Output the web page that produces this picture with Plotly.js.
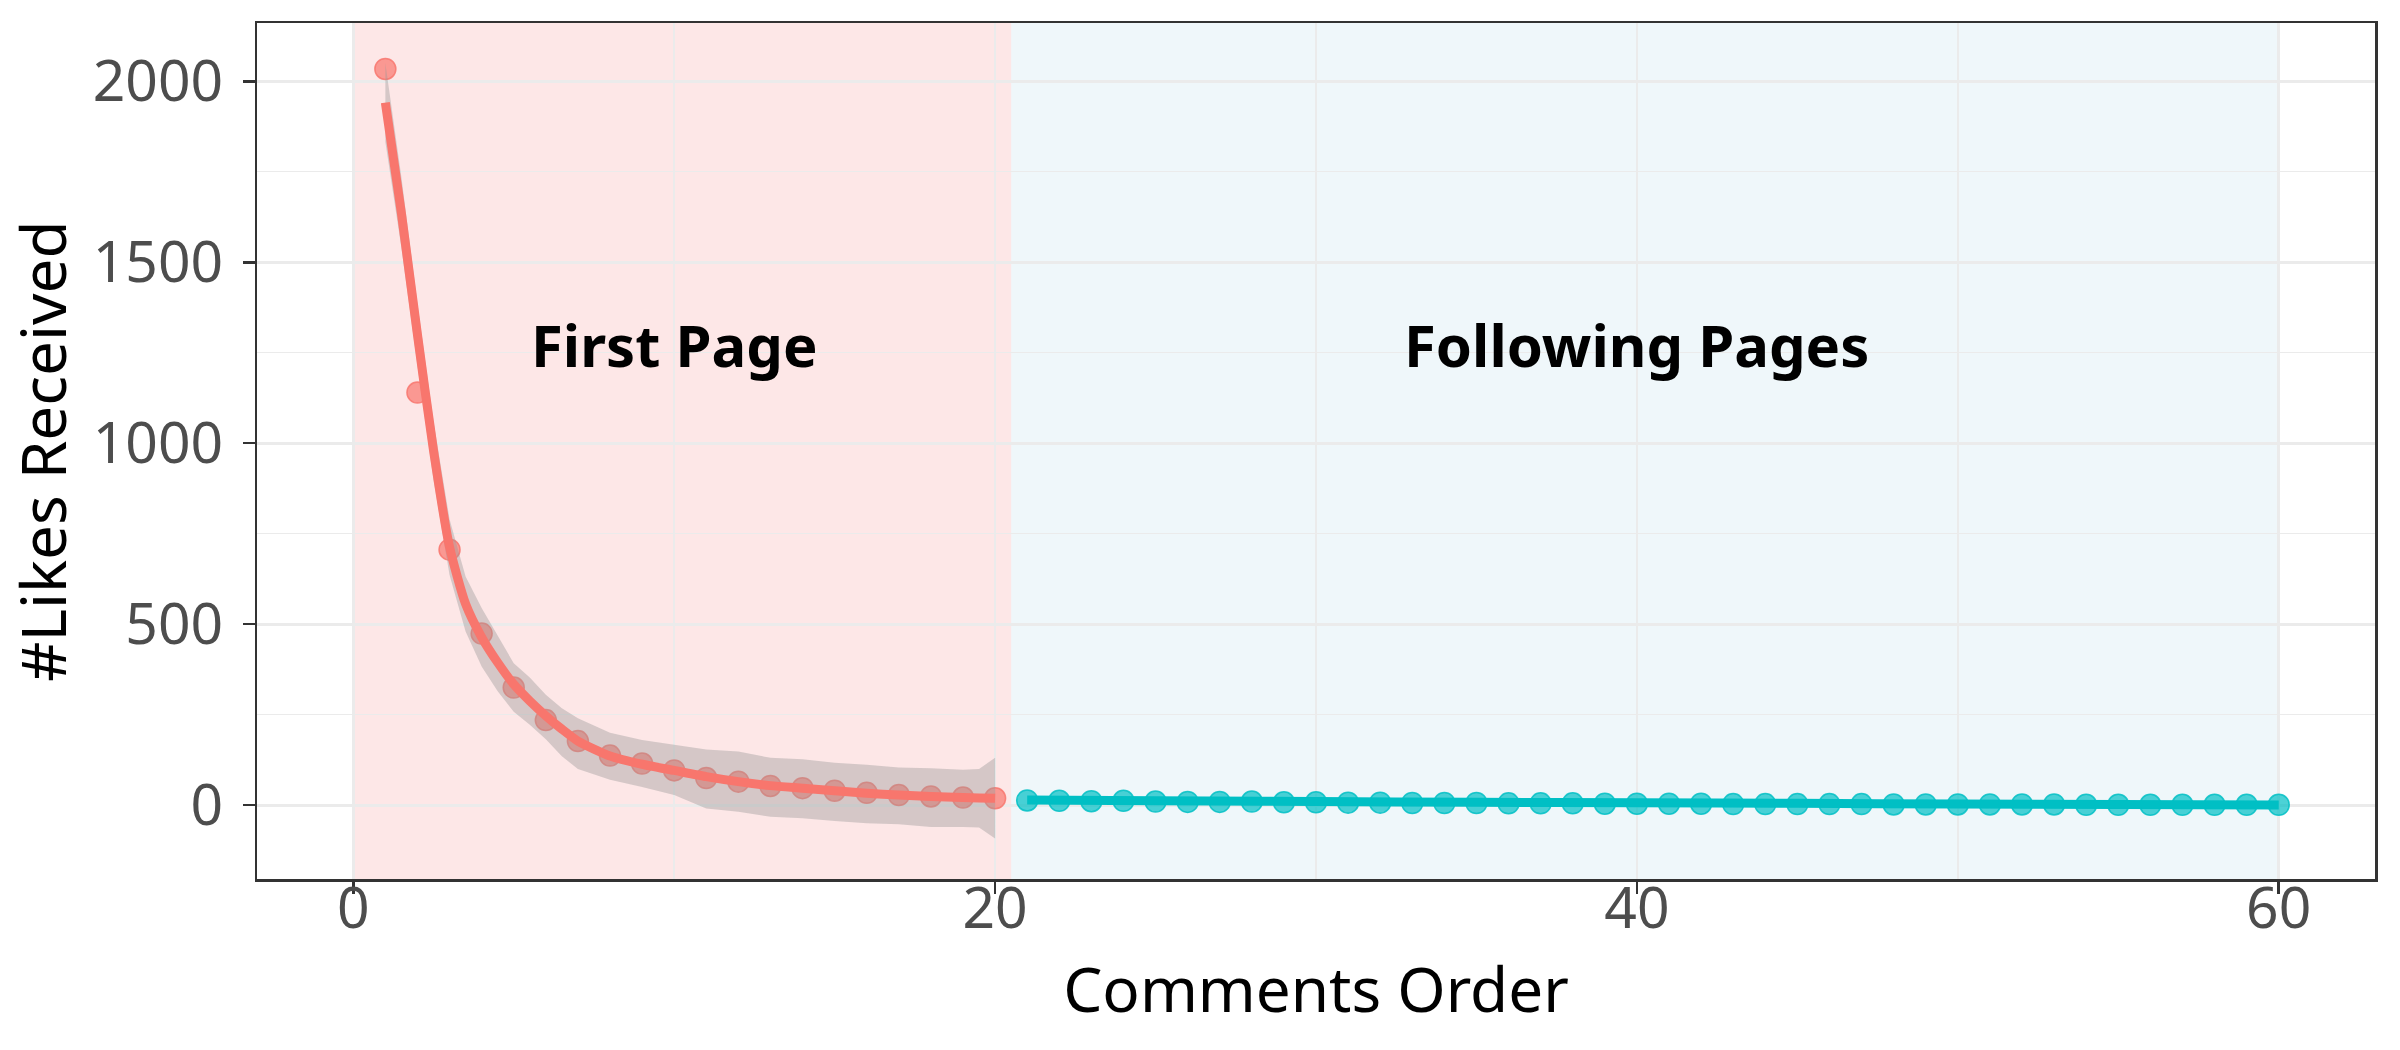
<!DOCTYPE html>
<html>
<head>
<meta charset="utf-8">
<script src="https://cdn.plot.ly/plotly-3.0.1.min.js"></script>
<style>
  html, body { margin: 0; padding: 0; background: #ffffff; }
  #chart { width: 2400px; height: 1050px; }
</style>
</head>
<body>
<div id="chart"></div>
<script>
// ---- Data ----
const firstPageOrder = [1,2,3,4,5,6,7,8,9,10,11,12,13,14,15,16,17,18,19,20];
const firstPageLikes = [2034,1140,706,474,325,235,177,137,115,96,75,65,53,47,40,34,28,24,21,19];

const followingOrder = [21,22,23,24,25,26,27,28,29,30,31,32,33,34,35,36,37,38,39,40,
                        41,42,43,44,45,46,47,48,49,50,51,52,53,54,55,56,57,58,59,60];
const followingLikes = [13,12,11,12,10,9,9,10,8,8,7,7,6,6,6,5,5,5,4,4,
                        4,4,3,3,3,3,3,2,2,2,2,2,2,1,1,1,1,1,1,1];

// loess fit + confidence band for the first page
const firstFitX     = [1,1.5,2,2.5,3,3.5,4,4.5,5,5.5,6,6.5,7,8,9,10,11,12,13,14,15,16,17,18,19,19.5,20];
const firstFitY     = [1941,1635,1300,980,713,556,464,394,334,288,247,210,177,136,113,96,79,65,54,47,40,33,28,24,21,20,19];
const firstFitUpper = [2050,1735,1385,1060,790,632,545,470,392,353,305,268,240,200,180,167,154,148,131,127,117,112,104,102,98,100,131];
const firstFitLower = [1832,1540,1215,900,636,480,383,315,258,222,182,135,100,70,50,28,-9,-18,-32,-36,-44,-50,-53,-60,-60,-62,-92];

// fit for the following pages
const followFitX = [21,25,30,35,40,45,50,55,60];
const followFitY = [14,12,10,8,6.5,5,3.5,2,0.5];

// regions and labels
const regionNames  = ["First Page", "Following Pages"];
const regionStart  = [0, 20.5];
const regionEnd    = [20.5, 60];
const regionLabelX = [10, 40];
const regionLabelY = [1272, 1272];

const xTicks = [0, 20, 40, 60];
const yTicks = [0, 500, 1000, 1500, 2000];

// ---- Styles ----
const RED = "#F8766D";
const TEAL = "#00BFC4";
const regionFills = ["rgba(235,60,60,0.12)", "rgba(80,165,200,0.09)"];
const FONT = "Noto Sans, Open Sans, DejaVu Sans, sans-serif";

const traces = [
  {
    type: "scatter", mode: "markers",
    x: firstPageOrder, y: firstPageLikes,
    marker: { size: 21, color: "rgba(248,118,109,0.70)", line: { color: "rgba(248,118,109,0.85)", width: 1.5 } },
    hoverinfo: "skip", showlegend: false
  },
  {
    type: "scatter", mode: "lines",
    x: firstFitX.concat(firstFitX.slice().reverse()),
    y: firstFitUpper.concat(firstFitLower.slice().reverse()),
    fill: "toself", fillcolor: "rgba(153,153,153,0.40)",
    line: { width: 0, shape: "linear" },
    hoverinfo: "skip", showlegend: false
  },
  {
    type: "scatter", mode: "lines",
    x: firstFitX, y: firstFitY,
    line: { color: RED, width: 9, shape: "spline", smoothing: 0.6 },
    hoverinfo: "skip", showlegend: false
  },
  {
    type: "scatter", mode: "markers",
    x: followingOrder, y: followingLikes,
    marker: { size: 21, color: "rgba(0,191,196,0.70)", line: { color: "rgba(0,191,196,0.85)", width: 1.5 } },
    hoverinfo: "skip", showlegend: false
  },
  {
    type: "scatter", mode: "lines",
    x: followFitX, y: followFitY,
    line: { color: TEAL, width: 9, shape: "spline" },
    hoverinfo: "skip", showlegend: false
  }
];

const shapes = regionNames.map((n, i) => ({
  type: "rect", xref: "x", yref: "paper",
  x0: regionStart[i], x1: regionEnd[i], y0: 0, y1: 1,
  fillcolor: regionFills[i], line: { width: 0 }, layer: "between"
}));

const annotations = regionNames.map((n, i) => ({
  x: regionLabelX[i], y: regionLabelY[i], xref: "x", yref: "y",
  text: n, showarrow: false,
  font: { family: FONT, size: 58, color: "#000000", weight: "bold" },
  xanchor: "center", yanchor: "middle"
}));

const axisCommon = {
  showline: true, mirror: true, linecolor: "#333333", linewidth: 2.5,
  ticks: "outside", ticklen: 12, tickwidth: 2.5, tickcolor: "#333333",
  showgrid: true, gridcolor: "#EBEBEB", gridwidth: 2.7,
  zeroline: false,
  tickfont: { family: FONT, size: 57, color: "#4D4D4D" },
  automargin: false
};

const layout = {
  width: 2400, height: 1050,
  paper_bgcolor: "#ffffff", plot_bgcolor: "#ffffff",
  margin: { l: 257, r: 25, t: 23, b: 171, pad: 0 },
  showlegend: false,
  xaxis: Object.assign({}, axisCommon, {
    range: [-3, 63], tickvals: xTicks, ticktext: xTicks.map(String),
    minor: { dtick: 10, tick0: 0, showgrid: true, gridcolor: "#EBEBEB", gridwidth: 1.4, ticks: "" },
    ticklabelstandoff: -34,
    title: { text: "Comments Order", font: { family: FONT, size: 62, color: "#000000" }, standoff: 25 }
  }),
  yaxis: Object.assign({}, axisCommon, {
    range: [-204, 2161], tickvals: yTicks, ticktext: yTicks.map(String),
    minor: { dtick: 250, tick0: 0, showgrid: true, gridcolor: "#EBEBEB", gridwidth: 1.4, ticks: "" },
    ticklabelstandoff: 8,
    title: { text: "#Likes Received", font: { family: FONT, size: 62, color: "#000000" }, standoff: 18 }
  }),
  shapes: shapes,
  annotations: annotations
};

Plotly.newPlot("chart", traces, layout, { displayModeBar: false, staticPlot: true });
</script>
</body>
</html>
